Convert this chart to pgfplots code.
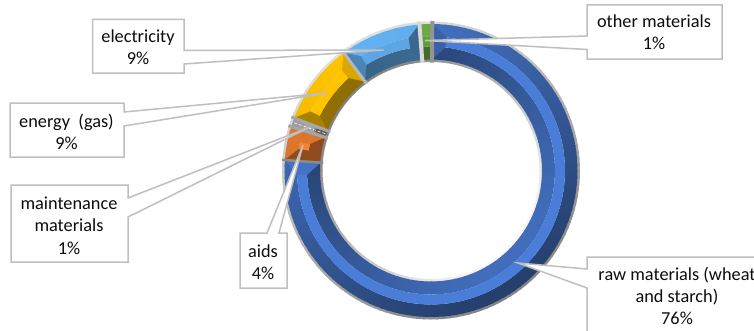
\documentclass[border=0pt]{standalone}
\usepackage{fontspec}
\setmainfont{Carlito}
\usepackage{pgfplots}
\pgfplotsset{compat=1.18}

\definecolor{rawc}{HTML}{4472C4}
\definecolor{rawm}{HTML}{4A7DD8}
\definecolor{aidc}{HTML}{EF8032}
\definecolor{aidm}{HTML}{F58232}
\definecolor{mntc}{HTML}{A5A5A5}
\definecolor{engc}{HTML}{FFC400}
\definecolor{elec}{HTML}{63B1F1}
\definecolor{elem}{HTML}{5DA5E4}
\definecolor{othc}{HTML}{70AD47}
\definecolor{othm}{HTML}{5C9E32}
\definecolor{boxc}{HTML}{BFBFBF}
\tikzset{lab/.style={font=\fontsize{18.3}{22.3}\selectfont, align=center, text=black!95}}

% one flat facet between two angles and two radii
\newcommand{\facet}[6]{%
  \edef\temp{\noexpand\addplot[data cs=polar, fill=#5!#6!black, draw=none]
    coordinates {(#1,#3)(#2,#3)(#2,#4)(#1,#4)} --cycle;}\temp}

% a ring band cut in short facets, #6 gives the brightness from \angM
\newcommand{\ringband}[6]{%
  \pgfmathtruncatemacro\nsteps{max(1,ceil((#1-#2)/2.5))}%
  \pgfmathsetmacro\dstep{(#1-#2)/\nsteps}%
  \pgfplotsforeachungrouped \i in {1,...,\nsteps}{%
    \pgfmathsetmacro\angA{#1-(\i-1)*\dstep}%
    \pgfmathsetmacro\angB{#1-\i*\dstep}%
    \pgfmathsetmacro\angM{(\angA+\angB)/2}%
    \pgfmathsetmacro\angB{\angB-0.5}%
    \pgfmathsetmacro\pct{#6}%
    \facet{\angA}{\angB}{#3}{#4}{#5}{\pct}%
  }}

% share in %, colour, ridge colour, brightness of both end faces, inset of the ridge
\def\cur{89.5}
\newcommand{\slice}[6]{%
  \pgfmathsetmacro\hi{\cur}%
  \pgfmathsetmacro\lo{\cur-3.6*#1}%
  \pgfmathsetmacro\hiin{\hi-#6}%
  \pgfmathsetmacro\loin{\lo+#6}%
  \ringband{\hi}{\lo}{134}{146.5}{#2}{78+22*cos(\angM-120)}%
  \ringband{\hi}{\lo}{111}{124}{#2}{76-20*cos(\angM-135)}%
  \ringband{\hi}{\lo}{124}{134}{#3}{100}%
  \edef\temp{\noexpand\addplot[data cs=polar, fill=#2!#4!black, draw=#2!#4!black, line width=0.3pt]
    coordinates {(\hi,111)(\hi,146.5)(\hiin,134)(\hiin,124)} --cycle;}\temp
  \edef\temp{\noexpand\addplot[data cs=polar, fill=#2!#5!black, draw=#2!#5!black, line width=0.3pt]
    coordinates {(\lo,111)(\lo,146.5)(\loin,134)(\loin,124)} --cycle;}\temp
  \global\let\cur\lo}

% separator at a cumulative share
\newcommand{\wing}[3]{%
  \pgfmathsetmacro\angW{89.5-3.6*#1}%
  \edef\temp{\noexpand\addplot[data cs=polar, draw=#2, line width=#3]
    coordinates {(\angW,108)(\angW,149.5)};}\temp}

\begin{document}
\begin{tikzpicture}
\useasboundingbox (0,0) rectangle (754pt,330pt);
\clip (0,0) rectangle (754pt,330pt);
\begin{axis}[
    scale only axis, width=754pt, height=330pt,
    xmin=-431, xmax=323, ymin=-159.5, ymax=170.5,
    hide axis, clip=false,
]
% grey rims
\ringband{90}{-270}{146}{149}{white}{70+18*cos(\angM-120)}
\ringband{90}{-270}{108.5}{111.5}{white}{74-24*cos(\angM-135)}

% raw materials, aids, maintenance, energy, electricity, other
\slice{76}{rawc}{rawm}{85}{100}{6}
\slice{3.7}{aidc}{aidm}{60}{92}{5}
\slice{1}{mntc}{mntc}{100}{100}{1}
\slice{9}{engc}{engc}{66}{85}{5}
\slice{8.9}{elec}{elem}{75}{59}{5}
\slice{1.4}{othc}{othm}{100}{90}{1}

\wing{76}{black!45}{2.5pt}
\wing{79.7}{black!35}{3pt}
\wing{80.7}{black!35}{3pt}
\wing{89.7}{black!28}{3pt}
\wing{98.6}{black!15}{4pt}
\wing{100}{black!42}{4pt}
\addplot[data cs=polar, draw=white, densely dashed, line width=0.6pt]
    coordinates {(-199.2,112)(-199.2,146)};

% callouts
\addplot[fill=white, draw=boxc, line width=1.5pt] coordinates
    {(-338.5,151)(-247,151)(-247,120)(-47.5,120.5)(-247,106.5)(-247,97.5)(-338.5,97.5)} --cycle;
\addplot[fill=white, draw=boxc, line width=1.5pt] coordinates
    {(-421,67.5)(-307,67.5)(-307,58.5)(-104,77.5)(-307,44.5)(-307,13.5)(-421,13.5)} --cycle;
\addplot[fill=white, draw=boxc, line width=1.5pt] coordinates
    {(-420,-14.5)(-303,-14.5)(-303,-27.5)(-121,43.5)(-303,-46.5)(-303,-91.5)(-420,-91.5)} --cycle;
\addplot[fill=white, draw=boxc, line width=1.5pt] coordinates
    {(-191,-62.5)(-164,-62.5)(-128,25.5)(-152,-62.5)(-144,-62.5)(-144,-117.5)(-191,-117.5)} --cycle;
\addplot[fill=white, draw=boxc, line width=1.5pt] coordinates
    {(156,165.5)(291,165.5)(291,111.5)(156,111.5)(156,121)(-6,130)(156,134.5)} --cycle;
\addplot[fill=white, draw=boxc, line width=1.5pt] coordinates
    {(156,-86.5)(369,-86.5)(369,-189.5)(156,-189.5)(156,-117.5)(87,-92.5)(156,-98.5)} --cycle;

\node[lab] at (axis cs:-293,123.5) {electricity\\9\%};
\node[lab] at (axis cs:-364.5,38.5) {energy\ \ (gas)\\9\%};
\node[lab] at (axis cs:-362,-55) {maintenance\\materials\\1\%};
\node[lab] at (axis cs:-168,-91.5) {aids\\4\%};
\node[lab] at (axis cs:223,138) {other materials\\1\%};
\node[lab] at (axis cs:246,-125.5) {raw materials (wheat\\and starch)\\76\%};
\end{axis}
\end{tikzpicture}
\end{document}
